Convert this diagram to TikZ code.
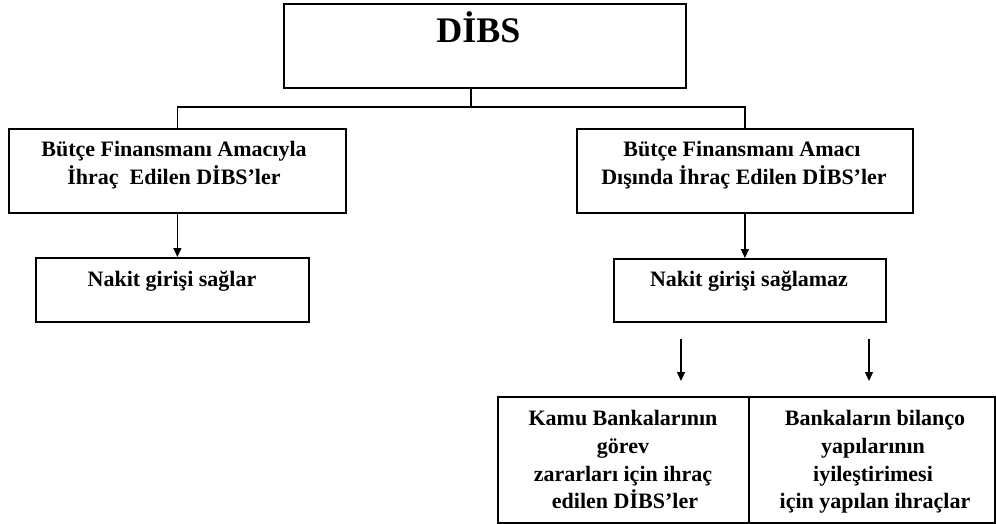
\documentclass[tikz,border=0pt]{standalone}
\usepackage{fontspec}
\setmainfont{Liberation Serif}
\usetikzlibrary{arrows.meta}
\begin{document}
\begin{tikzpicture}[x=1pt,y=-1pt,
  box/.style={draw,line width=1.8pt,inner sep=0pt,anchor=north west},
  txt/.style={anchor=base,inner sep=0pt,font=\fontsize{22}{26}\selectfont\bfseries},
  big/.style={anchor=base,inner sep=0pt,font=\fontsize{36}{40}\selectfont\bfseries},
  conn/.style={line width=1.3pt},
  arr/.style={line width=1.3pt,-{Triangle[length=9pt,width=8pt]}}]
\useasboundingbox (0,0) rectangle (996,524);
% boxes
\node[box,minimum width=402pt,minimum height=84pt] (top) at (283,3) {};
\node[box,minimum width=337pt,minimum height=84pt] (lb) at (8,128) {};
\node[box,minimum width=336pt,minimum height=84pt] (rb) at (576,128) {};
\node[box,minimum width=273pt,minimum height=64pt] (ln) at (35,257) {};
\node[box,minimum width=272pt,minimum height=63pt] (rn) at (613,258) {};
\node[box,minimum width=251pt,minimum height=126pt] (bl) at (497,396) {};
\node[box,minimum width=246pt,minimum height=126pt] (br) at (748,396) {};
% texts
\node[big] (tTop) at (478.5,43) {DİBS};
\node[txt] (tL1) at (174,157) {Bütçe Finansmanı Amacıyla};
\node[txt] (tL2) at (174,184) {İhraç\ \ Edilen DİBS’ler};
\node[txt] (tR1) at (742,157) {Bütçe Finansmanı Amacı};
\node[txt] (tR2) at (744,184) {Dışında İhraç\ Edilen DİBS’ler};
\node[txt] (tLN) at (172,286) {Nakit girişi sağlar};
\node[txt] (tRN) at (749,286) {Nakit girişi sağlamaz};
\node[txt] (tB1) at (623,425) {Kamu Bankalarının};
\node[txt] (tB2) at (623,453) {görev};
\node[txt] (tB3) at (623,481) {zararları\ için ihraç};
\node[txt] (tB4) at (625,508.5) {edilen DİBS’ler};
\node[txt] (tC1) at (875,425) {Bankaların\ bilanço};
\node[txt] (tC2) at (873,453) {yapılarının};
\node[txt] (tC3) at (873,481) {iyileştirimesi};
\node[txt] (tC4) at (875,508.5) {için yapılan\ ihraçlar};
% connectors
\coordinate (j) at (471,107);
\draw[conn] (top.south -| j) -- (j);
\draw[conn] (lb.north) |- (j) -| (rb.north);
\draw[arr] (lb.south) -- (lb.south |- ln.north);
\draw[arr] (rb.south) -- (rb.south |- rn.north);
\coordinate (a1s) at (681,339);
\coordinate (a1e) at (681,381);
\coordinate (a2s) at (869,339);
\coordinate (a2e) at (869,381);
\draw[arr] (a1s) -- (a1e);
\draw[arr] (a2s) -- (a2e);
\end{tikzpicture}
\end{document}
